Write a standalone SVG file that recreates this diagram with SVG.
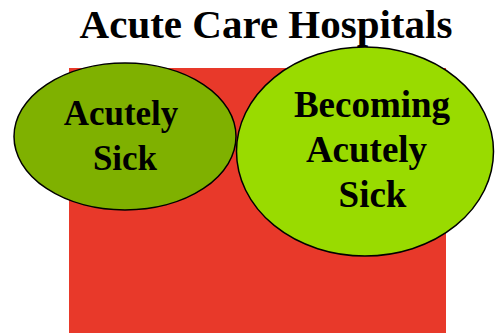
<svg xmlns="http://www.w3.org/2000/svg" width="495" height="333" viewBox="0 0 495 333">
<style>
text{font-family:"Liberation Serif","Times New Roman",serif;font-weight:bold;fill:#000;text-anchor:middle}
.node{stroke:#000;stroke-width:1.5}
</style>
<rect width="495" height="333" fill="#fff"/>
<g id="title"><text x="266" y="38" font-size="41">Acute Care Hospitals</text></g>
<g id="hospital"><rect x="69" y="68" width="377" height="265" fill="#E8392A"/></g>
<g id="acutely-sick">
<ellipse class="node" cx="125" cy="136.5" rx="111" ry="73.5" fill="#7FB100"/>
<text x="121" y="125" font-size="35">Acutely</text>
<text x="125" y="170" font-size="35">Sick</text>
</g>
<g id="becoming-acutely-sick">
<ellipse class="node" cx="365" cy="151.5" rx="128.5" ry="104.5" fill="#99DB00"/>
<text x="372" y="117" font-size="37">Becoming</text>
<text x="366.5" y="162" font-size="37">Acutely</text>
<text x="372.5" y="207" font-size="37">Sick</text>
</g>
<g id="connectors"/>
</svg>
